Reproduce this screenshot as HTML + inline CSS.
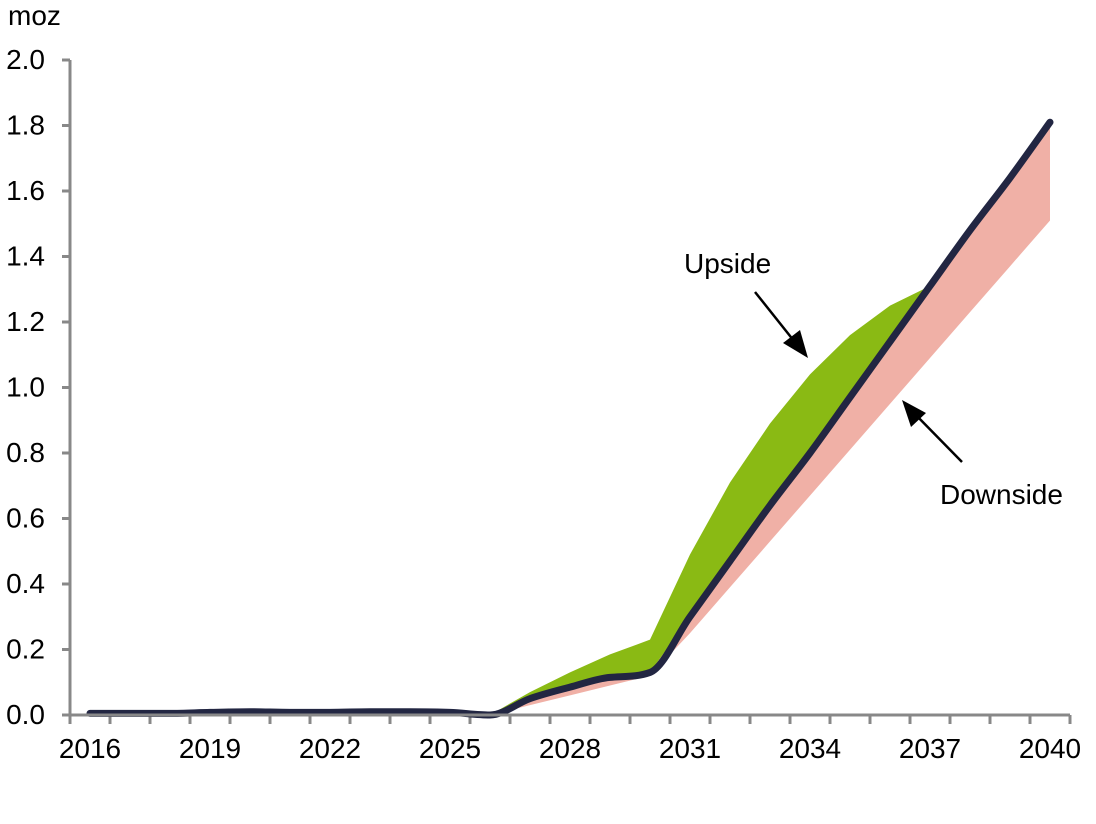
<!DOCTYPE html>
<html><head><meta charset="utf-8"><style>
body{margin:0;background:#fff;}
svg text{font-family:"Liberation Sans",Arial,sans-serif;fill:#000;}
</style></head><body>
<svg id="chart" width="1096" height="819" viewBox="0 0 1096 819" xmlns="http://www.w3.org/2000/svg">
<text x="8" y="25" font-size="28">moz</text>
<g id="yticks"></g><g id="xticks"></g>
<g id="areas"></g>
<g id="lines"></g>
<line x1="70" y1="60" x2="70" y2="715" stroke="#888" stroke-width="3"/>
<line x1="70" y1="715" x2="1070" y2="715" stroke="#888" stroke-width="3"/>
<text x="684" y="273" font-size="28">Upside</text>
<g>
<line x1="755" y1="292" x2="798" y2="346" stroke="#000" stroke-width="2.5"/>
<polygon points="808,358 783,343 800,330" fill="#000"/>
</g>
<text x="940" y="504" font-size="28">Downside</text>
<g>
<line x1="962" y1="462" x2="912" y2="411" stroke="#000" stroke-width="2.5"/>
<polygon points="902,400 926,413 911,427" fill="#000"/>
</g>
</svg>
<script>
const years=[2016,2017,2018,2019,2020,2021,2022,2023,2024,2025,2026,2027,2028,2029,2030,2031,2032,2033,2034,2035,2036,2037,2038,2039,2040];
const baseValues=[0.005,0.005,0.005,0.008,0.01,0.008,0.008,0.01,0.01,0.008,0.0,0.05,0.085,0.115,0.13,0.30,0.47,0.64,0.80,0.97,1.14,1.31,1.48,1.64,1.81];
const upsideValues=[0.005,0.005,0.005,0.008,0.01,0.008,0.008,0.01,0.01,0.008,0.0,0.07,0.13,0.185,0.23,0.49,0.71,0.89,1.04,1.16,1.25,1.31,1.48,1.64,1.81];
const downsideValues=[0.005,0.005,0.005,0.008,0.01,0.008,0.008,0.01,0.01,0.008,0.0,0.03,0.06,0.09,0.12,0.25,0.39,0.53,0.67,0.81,0.95,1.09,1.23,1.37,1.51];
const yTickLabels=["0.0","0.2","0.4","0.6","0.8","1.0","1.2","1.4","1.6","1.8","2.0"];
const xTickLabels=["2016","2019","2022","2025","2028","2031","2034","2037","2040"];
const NS="http://www.w3.org/2000/svg";
const x=i=>90+i*40;
const y=v=>715-v*327.5;
function mk(tag,attrs,parent){const e=document.createElementNS(NS,tag);for(const k in attrs)e.setAttribute(k,attrs[k]);parent.appendChild(e);return e;}
const yt=document.getElementById('yticks');
yTickLabels.forEach(l=>{const v=parseFloat(l);
 const t=mk('line',{x1:62,x2:70,y1:y(v),y2:y(v),stroke:'#888','stroke-width':3},yt);
 
 
 const tx=mk('text',{x:45,y:y(v)+9,'font-size':28,'text-anchor':'end'},yt);tx.textContent=l;
 
 
});
const xt=document.getElementById('xticks');
for(let i=0;i<=years.length;i++){const t=mk('line',{x1:70+i*40,x2:70+i*40,y1:715,y2:724,stroke:'#888','stroke-width':3},xt);
 
 }
xTickLabels.forEach(l=>{const i=years.indexOf(+l);
 const tx=mk('text',{x:x(i),y:758,'font-size':28,'text-anchor':'middle'},xt);tx.textContent=l;
 
 });
function pts(vals){return vals.map((v,i)=>[x(i),y(v)]);}
function monotone(p){
 const n=p.length,d=[],m=[];
 for(let i=0;i<n-1;i++)d.push((p[i+1][1]-p[i][1])/(p[i+1][0]-p[i][0]));
 m[0]=d[0];m[n-1]=d[n-2];
 for(let i=1;i<n-1;i++){m[i]=(d[i-1]*d[i]<=0)?0:(d[i-1]+d[i])/2;}
 for(let i=0;i<n-1;i++){if(d[i]===0){m[i]=0;m[i+1]=0;continue;}const a=m[i]/d[i],b=m[i+1]/d[i],s=a*a+b*b;if(s>9){const t=3/Math.sqrt(s);m[i]=t*a*d[i];m[i+1]=t*b*d[i];}}
 let s='M'+p[0][0]+','+p[0][1];
 for(let i=0;i<n-1;i++){const h=(p[i+1][0]-p[i][0])/3;
  s+=` C${p[i][0]+h},${p[i][1]+m[i]*h} ${p[i+1][0]-h},${p[i+1][1]-m[i+1]*h} ${p[i+1][0]},${p[i+1][1]}`;}
 return s;}
function band(lo,hi){const a=pts(hi),b=pts(lo).reverse();return 'M'+a.map(p=>p.join(',')).join(' L')+' L'+b.map(p=>p.join(',')).join(' L')+'Z';}
const ar=document.getElementById('areas');
const g=mk('path',{d:band(baseValues,upsideValues),fill:'#8aba14'},ar);


const r=mk('path',{d:band(downsideValues,baseValues),fill:'#f0b0a6'},ar);


const ln=mk('path',{d:monotone(pts(baseValues)),fill:'none',stroke:'#222642','stroke-width':7,'stroke-linecap':'round','stroke-linejoin':'round'},document.getElementById('lines'));


</script>
</body></html>
